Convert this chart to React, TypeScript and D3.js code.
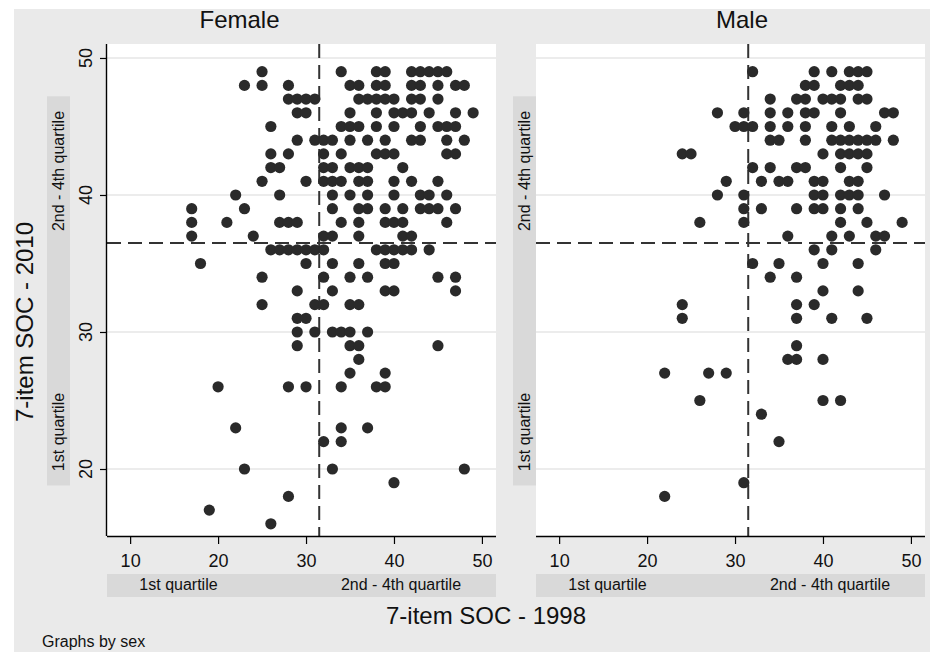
import React, { useEffect, useRef } from "react";
import * as d3 from "d3";

// ---- data ----
const panels = ["Female", "Male"];
const xTicks = [10, 20, 30, 40, 50];
const yTicks = [20, 30, 40, 50];
const xCut = 31.5;
const yCut = 36.5;
const quartileLabels = ["1st quartile", "2nd - 4th quartile"];
const xQuartileAt = [15.5, 40.8];
const yQuartileAt = [22.7, 41.75];
const yBandSpan = [47.2, 18.8];

// [SOC 2010, [SOC 1998 values...]]
const femaleRows: [number, number[]][] = [
  [49, [25, 34, 38, 39, 42, 43, 44, 45, 46]],
  [48, [23, 25, 28, 35, 36, 38, 39, 42, 43, 45, 47, 48]],
  [47, [28, 29, 30, 31, 36, 37, 38, 39, 40, 42, 43, 45]],
  [46, [29, 30, 35, 38, 40, 41, 42, 44, 47, 49]],
  [45, [26, 34, 35, 36, 38, 40, 43, 45, 46, 47]],
  [44, [29, 31, 32, 33, 35, 37, 39, 42, 43, 46, 48]],
  [43, [26, 28, 32, 34, 38, 39, 40, 46, 47]],
  [42, [26, 27, 32, 33, 35, 36, 37, 41]],
  [41, [25, 30, 32, 33, 34, 36, 37, 40, 42, 45]],
  [40, [22, 27, 33, 35, 37, 40, 43, 44, 46]],
  [39, [17, 23, 33, 36, 37, 39, 41, 43, 44, 45, 47]],
  [38, [17, 21, 27, 28, 29, 34, 36, 39, 40, 41, 46]],
  [37, [17, 24, 32, 33, 36, 41, 42]],
  [36, [26, 27, 28, 29, 30, 31, 32, 38, 39, 40, 41, 42, 44]],
  [35, [18, 30, 33, 36, 39, 40]],
  [34, [25, 32, 35, 37, 45, 47]],
  [33, [29, 33, 39, 40, 47]],
  [32, [25, 31, 32, 35, 36]],
  [31, [29, 30]],
  [30, [29, 31, 33, 34, 35, 37]],
  [29, [29, 35, 36, 45]],
  [28, [36]],
  [27, [35, 39]],
  [26, [20, 28, 30, 34, 38, 39]],
  [23, [22, 34, 37]],
  [22, [32, 34]],
  [20, [23, 33, 48]],
  [19, [40]],
  [18, [28]],
  [17, [19]],
  [16, [26]],
];

const maleRows: [number, number[]][] = [
  [49, [32, 39, 41, 43, 44, 45]],
  [48, [38, 39, 42, 43, 44]],
  [47, [34, 37, 38, 40, 41, 42, 44, 45]],
  [46, [28, 31, 34, 36, 38, 39, 42, 47, 48]],
  [45, [30, 31, 32, 34, 36, 38, 41, 43, 46]],
  [44, [34, 35, 38, 41, 42, 43, 44, 45, 46, 48]],
  [43, [24, 25, 40, 42, 43, 44, 45]],
  [42, [32, 34, 37, 38, 42, 45]],
  [41, [29, 33, 35, 36, 39, 40, 43, 44]],
  [40, [28, 31, 39, 40, 42, 43, 44, 47]],
  [39, [31, 33, 37, 39, 40, 42, 44]],
  [38, [26, 31, 42, 45, 49]],
  [37, [36, 41, 43, 46, 47]],
  [36, [39, 41, 46]],
  [35, [32, 35, 40, 44]],
  [34, [34, 37]],
  [33, [40, 44]],
  [32, [24, 37, 39]],
  [31, [24, 37, 41, 45]],
  [29, [37]],
  [28, [36, 37, 40]],
  [27, [22, 27, 29]],
  [25, [26, 40, 42]],
  [24, [33]],
  [22, [35]],
  [19, [31]],
  [18, [22]],
];

const flatten = (rows: [number, number[]][]) =>
  rows.flatMap(([y, xs]) => xs.map((x) => ({ x, y })));

const panelData = [flatten(femaleRows), flatten(maleRows)];

function App() {
  const ref = useRef<SVGSVGElement>(null);

  useEffect(() => {
    const width = 936;
    const height = 652;
    const font = "'Liberation Sans', Arial, Helvetica, sans-serif";
    const bg = "#eaeaea";
    const band = "#d9d9d9";
    const ink = "#2a2a2a";

    const svg = d3.select(ref.current);
    svg.selectAll("*").remove();
    svg.attr("width", width).attr("height", height).style("font-family", font);

    svg.append("rect").attr("width", width).attr("height", height).attr("fill", "#fff");
    svg.append("rect")
      .attr("x", 14).attr("y", 9)
      .attr("width", 916).attr("height", height - 9)
      .attr("fill", bg);

    const plotTop = 44;
    const plotBottom = 536;
    const plotLefts = [107, 536];
    const plotW = 389;
    const titleX = [239.5, 742];
    const yBandX = [47, 513];

    const y = d3.scaleLinear().domain([15.11, 51.02]).range([plotBottom, plotTop]);

    panels.forEach((name, i) => {
      const left = plotLefts[i];
      const x = d3.scaleLinear().domain([7.37, 51.6]).range([left, left + plotW]);
      const g = svg.append("g");

      // panel title
      g.append("text")
        .attr("x", titleX[i]).attr("y", 28)
        .attr("text-anchor", "middle")
        .attr("font-size", 24)
        .attr("fill", "#111")
        .text(name);

      // plot region
      g.append("rect")
        .attr("x", left).attr("y", plotTop)
        .attr("width", plotW).attr("height", plotBottom - plotTop)
        .attr("fill", "#fff");

      // gridlines
      g.selectAll(".grid")
        .data(yTicks)
        .enter()
        .append("line")
        .attr("x1", left).attr("x2", left + plotW)
        .attr("y1", (d) => y(d)).attr("y2", (d) => y(d))
        .attr("stroke", "#e6e6e6")
        .attr("stroke-width", 1.5);

      // cut lines
      g.append("line")
        .attr("x1", x(xCut)).attr("x2", x(xCut))
        .attr("y1", plotTop).attr("y2", plotBottom)
        .attr("stroke", "#333").attr("stroke-width", 2)
        .attr("stroke-dasharray", "14,7");
      g.append("line")
        .attr("x1", left).attr("x2", left + plotW)
        .attr("y1", y(yCut)).attr("y2", y(yCut))
        .attr("stroke", "#333").attr("stroke-width", 2)
        .attr("stroke-dasharray", "14,7");

      // points
      g.selectAll(".dot")
        .data(panelData[i])
        .enter()
        .append("circle")
        .attr("cx", (d) => x(d.x))
        .attr("cy", (d) => y(d.y))
        .attr("r", 5.6)
        .attr("fill", ink);

      // x axis
      const xAxis = g.append("g")
        .attr("transform", `translate(0,${plotBottom})`)
        .call(d3.axisBottom(x).tickValues(xTicks).tickSize(8).tickSizeOuter(0).tickPadding(4));
      xAxis.select("path.domain")
        .attr("d", `M${left},0.5H${left + plotW}`)
        .attr("stroke", "#000").attr("stroke-width", 1.4);
      xAxis.selectAll(".tick line").attr("stroke", "#000").attr("stroke-width", 1.2);
      xAxis.selectAll(".tick text")
        .attr("font-size", 18)
        .attr("font-family", font)
        .attr("fill", "#111")
        .attr("dy", null)
        .attr("y", 31);

      // x quartile band
      g.append("rect")
        .attr("x", left).attr("y", 574)
        .attr("width", plotW).attr("height", 23)
        .attr("fill", band);
      g.selectAll(".xq")
        .data(quartileLabels)
        .enter()
        .append("text")
        .attr("x", (d, j) => x(xQuartileAt[j]))
        .attr("y", 590)
        .attr("text-anchor", "middle")
        .attr("font-size", 16)
        .attr("fill", "#111")
        .text((d) => d);

      // y quartile band
      const bx = yBandX[i];
      g.append("rect")
        .attr("x", bx).attr("y", y(yBandSpan[0]))
        .attr("width", 23).attr("height", y(yBandSpan[1]) - y(yBandSpan[0]))
        .attr("fill", band);
      g.selectAll(".yq")
        .data(quartileLabels)
        .enter()
        .append("text")
        .attr("transform", (d, j) => `translate(${bx + 17},${y(yQuartileAt[j])}) rotate(-90)`)
        .attr("text-anchor", "middle")
        .attr("font-size", 16)
        .attr("fill", "#111")
        .text((d) => d);

      // y axis only on the first panel
      if (i === 0) {
        const yAxis = g.append("g")
          .attr("transform", `translate(${left},0)`)
          .call(d3.axisLeft(y).tickValues(yTicks).tickSize(7).tickSizeOuter(0));
        yAxis.select("path.domain")
          .attr("d", `M-0.5,${plotTop}V${plotBottom}`)
          .attr("stroke", "#000").attr("stroke-width", 1.4);
        yAxis.selectAll(".tick line").attr("stroke", "#000").attr("stroke-width", 1.2);
        yAxis.selectAll(".tick text").remove();
        g.selectAll(".ylab")
          .data(yTicks)
          .enter()
          .append("text")
          .attr("transform", (d) => `translate(92,${y(d)}) rotate(-90)`)
          .attr("text-anchor", "middle")
          .attr("font-size", 18)
          .attr("fill", "#111")
          .text((d) => d);
      }
    });

    // overall titles
    svg.append("text")
      .attr("x", 486).attr("y", 624)
      .attr("text-anchor", "middle")
      .attr("font-size", 24)
      .attr("fill", "#111")
      .text("7-item SOC - 1998");

    svg.append("text")
      .attr("transform", "translate(33,322) rotate(-90)")
      .attr("text-anchor", "middle")
      .attr("font-size", 24)
      .attr("fill", "#111")
      .text("7-item SOC - 2010");

    svg.append("text")
      .attr("x", 42).attr("y", 647)
      .attr("font-size", 16)
      .attr("fill", "#111")
      .text("Graphs by sex");
  }, []);

  return (
    <div style={{ position: "absolute", left: 0, top: 0 }}>
      <svg ref={ref} />
    </div>
  );
}

export default App;
